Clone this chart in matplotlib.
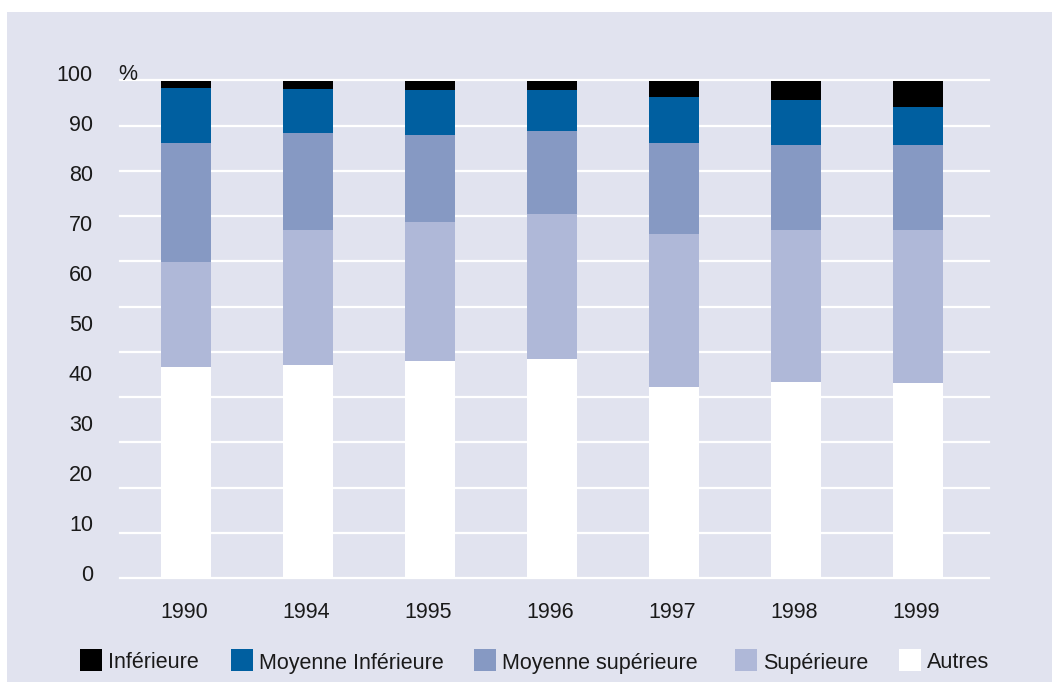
import numpy as np
import matplotlib
matplotlib.use("Agg")
import matplotlib.pyplot as plt
from matplotlib.patches import Rectangle
import matplotlib.transforms as mtransforms

plt.rcParams['font.family'] = ['Liberation Sans', 'DejaVu Sans']

years = ['1990', '1994', '1995', '1996', '1997', '1998', '1999']
autres = [42.4, 42.9, 43.6, 44.0, 38.4, 39.4, 39.2]
superieure = [21.2, 27.1, 27.9, 29.1, 30.8, 30.6, 30.8]
moy_sup = [23.9, 19.5, 17.5, 16.7, 18.3, 17.1, 17.1]
moy_inf = [10.9, 8.8, 9.0, 8.2, 9.2, 9.0, 7.6]
inferieure = [1.7, 1.7, 2.0, 2.0, 3.2, 4.0, 5.2]

series_names = ['Autres', 'Supérieure', 'Moyenne supérieure', 'Moyenne Inférieure', 'Inférieure']
series_vals = [autres, superieure, moy_sup, moy_inf, inferieure]
series_cols = ['#ffffff', '#afb8d8', '#8699c3', '#005fa0', '#000000']

legend_order = ['Inférieure', 'Moyenne Inférieure', 'Moyenne supérieure', 'Supérieure', 'Autres']
yvals = list(range(0, 101, 10))

FS = 15.5
W, H = 1052, 682
fig = plt.figure(figsize=(W / 100, H / 100), dpi=100)
fig.patch.set_facecolor('white')

# background panel
fig.add_artist(Rectangle((7 / W, 0), 1 - 7 / W, (H - 12) / H, transform=fig.transFigure,
                         facecolor='#e1e3ef', edgecolor='none', zorder=0))

left, right, top, bottom = 120, 989, 80.5, 578
ax = fig.add_axes([left / W, 1 - bottom / H, (right - left) / W, (bottom - top) / H])
ax.set_facecolor('none')
for s in ax.spines.values():
    s.set_visible(False)

x = np.arange(len(years))
ax.set_xlim(-0.54, len(years) - 1 + 0.58)
ax.set_ylim(0, 100)

for g in np.linspace(0, 100, 12):
    ax.axhline(g, color='white', lw=1.6, zorder=1, clip_on=False)

bottom_acc = np.zeros(len(years))
for name, vals, col in zip(series_names, series_vals, series_cols):
    ax.bar(x, vals, bottom=bottom_acc, width=50 / 122, color=col, edgecolor='none',
           zorder=2, label=name)
    bottom_acc += np.array(vals)

ax.set_xticks([])
ax.set_yticks([])

# y labels (slightly offset from gridlines as in the original)
blend_y = mtransforms.blended_transform_factory(fig.transFigure, ax.transData)
for v in yvals:
    fig.text(93 / W, v * 1.005 + 0.6, str(v), transform=blend_y, ha='right', va='center',
             fontsize=FS, color='#1a1a1a')
fig.text(118 / W, 1 - 75 / H, '%', ha='left', va='center', fontsize=FS, color='#1a1a1a')

# x labels
blend_x = mtransforms.blended_transform_factory(ax.transData, fig.transFigure)
for i, yl in enumerate(years):
    ax.text(x[i] - 0.015, 1 - 612 / H, yl, transform=blend_x, ha='center', va='center',
            fontsize=FS, color='#1a1a1a')

# legend
leg_x = [80, 231, 474, 735, 899]
col_map = dict(zip(series_names, series_cols))
for name, lx in zip(legend_order, leg_x):
    fig.add_artist(Rectangle((lx / W, 1 - 671 / H), 22 / W, 22 / H, transform=fig.transFigure,
                             facecolor=col_map[name], edgecolor='none', zorder=3))
    fig.text((lx + 28) / W, 1 - 663 / H, name, ha='left', va='center', fontsize=FS,
             color='#1a1a1a')

fig.savefig('out.png', dpi=100)
